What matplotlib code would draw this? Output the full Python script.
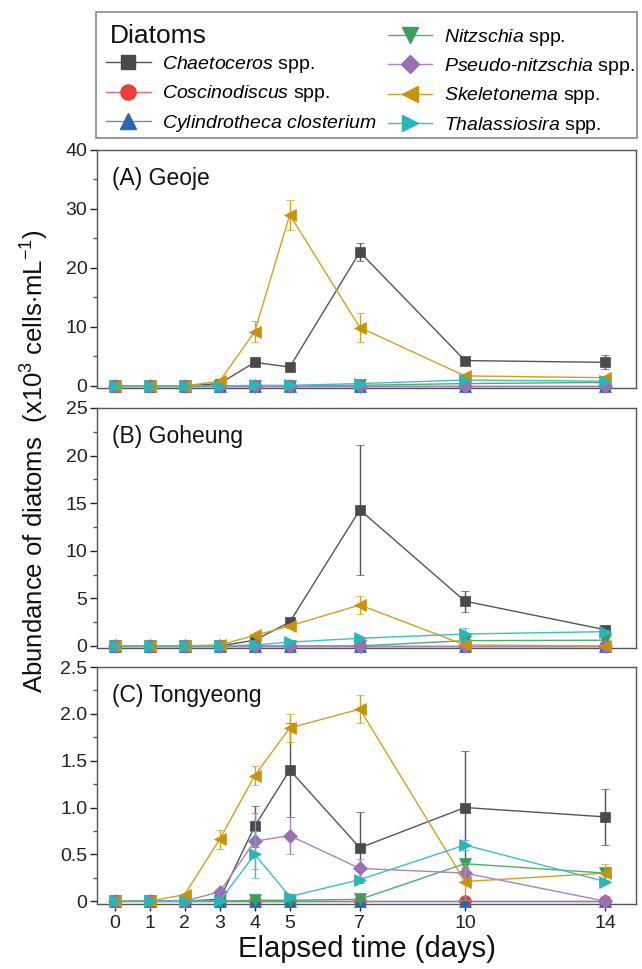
import matplotlib
matplotlib.use("Agg")
import matplotlib.pyplot as plt
from matplotlib.lines import Line2D
from matplotlib.patches import Rectangle
from matplotlib.ticker import MultipleLocator

plt.rcParams['font.family'] = ['Liberation Sans', 'DejaVu Sans']
plt.rcParams['mathtext.fontset'] = 'custom'
plt.rcParams['mathtext.rm'] = 'Liberation Sans'
plt.rcParams['mathtext.it'] = 'Liberation Sans:italic'

days = [0, 1, 2, 3, 4, 5, 7, 10, 14]
species = [r"$\it{Chaetoceros}$ spp.", r"$\it{Coscinodiscus}$ spp.",
           r"$\it{Cylindrotheca\ closterium}$", r"$\it{Nitzschia}$ spp.",
           r"$\it{Pseudo}$-$\it{nitzschia}$ spp.", r"$\it{Skeletonema}$ spp.",
           r"$\it{Thalassiosira}$ spp."]
colors = ['#4a4a4a', '#e8413c', '#2a66b0', '#3a9e5f', '#9b6fb5', '#c8920e', '#2bb5b8']
line_colors = ['#555555', '#ee6a66', '#5b8fd0', '#4caf6f', '#a884c2', '#d3a020', '#3cc0c2']
markers = ['s', 'o', '^', 'v', 'D', '<', '>']
msizes = [7.5, 8.5, 9, 9, 7, 9, 9]

zeros = [0, 0, 0, 0, 0, 0, 0, 0, 0]

geoje_means = [
    [0, 0, 0, 0.4, 4.0, 3.2, 22.7, 4.3, 4.0],
    zeros,
    zeros,
    [0, 0, 0, 0, 0, 0, 0.1, 0.4, 0.6],
    zeros,
    [0, 0, 0, 0.8, 9.2, 29.0, 9.9, 1.7, 1.4],
    [0, 0, 0, 0, 0.1, 0.1, 0.4, 1.0, 0.8],
]
geoje_errs = [
    [0, 0, 0, 0.1, 0.3, 0.3, 1.5, 0.3, 1.2],
    zeros,
    zeros,
    zeros,
    zeros,
    [0, 0, 0, 0.2, 1.8, 2.5, 2.5, 0.2, 0.2],
    [0, 0, 0, 0, 0, 0, 0.1, 0.2, 0.1],
]
goheung_means = [
    [0, 0, 0, 0, 0.6, 2.5, 14.3, 4.7, 1.7],
    zeros,
    zeros,
    [0, 0, 0, 0, 0, 0, 0, 0.55, 0.6],
    zeros,
    [0, 0, 0, 0.1, 1.1, 2.1, 4.3, 0.1, 0],
    [0, 0, 0, 0, 0.1, 0.4, 0.8, 1.25, 1.5],
]
goheung_errs = [
    [0, 0, 0, 0, 0.1, 0.2, 6.8, 1.1, 0.2],
    zeros,
    zeros,
    zeros,
    zeros,
    [0, 0, 0, 0, 0.1, 0.2, 0.9, 0.1, 0],
    [0, 0, 0, 0, 0, 0.1, 0.1, 0.6, 0.2],
]
tongyeong_means = [
    [0, 0, 0, 0.02, 0.80, 1.40, 0.57, 1.0, 0.9],
    zeros,
    zeros,
    [0, 0, 0, 0, 0.01, 0.01, 0.02, 0.40, 0.30],
    [0, 0, 0, 0.1, 0.64, 0.70, 0.35, 0.30, 0],
    [0, 0, 0.07, 0.66, 1.34, 1.85, 2.05, 0.21, 0.30],
    [0, 0, 0, 0, 0.50, 0.05, 0.23, 0.60, 0.21],
]
tongyeong_errs = [
    [0, 0, 0, 0.01, 0.22, 0.5, 0.38, 0.6, 0.3],
    zeros,
    zeros,
    [0, 0, 0, 0, 0, 0, 0.02, 0.03, 0.02],
    [0, 0, 0, 0.02, 0.3, 0.2, 0.1, 0.05, 0],
    [0, 0, 0.01, 0.1, 0.1, 0.15, 0.15, 0.2, 0.1],
    [0, 0, 0, 0, 0.25, 0.02, 0.03, 0.05, 0.02],
]

sites = ["(A) Geoje", "(B) Goheung", "(C) Tongyeong"]
site_means = [geoje_means, goheung_means, tongyeong_means]
site_errs = [geoje_errs, goheung_errs, tongyeong_errs]
ylims = [(-0.35, 40), (-0.22, 25), (-0.03, 2.5)]
majors = [10, 5, 0.5]
minors = [5, 2.5, 0.25]

W, H = 642, 969
fig = plt.figure(figsize=(W / 100, H / 100), dpi=100)
left = 97 / W
width = (636 - 97) / W
boxes = [(150, 388), (408, 648), (667, 904)]
frame_col = '#555555'

axes = []
for i, (t, b) in enumerate(boxes):
    ax = fig.add_axes([left, 1 - b / H, width, (b - t) / H])
    axes.append(ax)
    for k in range(len(species)):
        ax.errorbar(days, site_means[i][k], yerr=site_errs[i][k],
                    color=line_colors[k], ecolor=line_colors[k], lw=1.0,
                    elinewidth=1.0, capsize=3, capthick=1.0,
                    marker=markers[k], ms=msizes[k], mfc=colors[k], mec=colors[k],
                    mew=0.5, zorder=3 + k, clip_on=False)
    ax.set_xlim(-0.5, 14.88)
    ax.set_ylim(*ylims[i])
    ax.yaxis.set_major_locator(MultipleLocator(majors[i]))
    ax.yaxis.set_minor_locator(MultipleLocator(minors[i]))
    ax.tick_params(axis='y', which='major', direction='out', length=5, width=1,
                   labelsize=14, colors='#222222', pad=2)
    ax.tick_params(axis='y', which='minor', direction='out', length=3, width=1,
                   colors='#555555')
    ax.set_xticks(days)
    if i < 2:
        ax.tick_params(axis='x', bottom=False, labelbottom=False)
    else:
        ax.tick_params(axis='x', direction='out', length=5, width=1,
                       labelsize=14, colors='#222222', pad=3)
    if i == 2:
        ax.yaxis.set_major_formatter(plt.FuncFormatter(
            lambda v, p: '0' if abs(v) < 1e-9 else f'{v:.1f}'))
    for s in ax.spines.values():
        s.set_color(frame_col)
        s.set_linewidth(1.0)
    ax.text(0.028, 0.93, sites[i], transform=ax.transAxes, fontsize=16.5,
            va='top', ha='left', color='#111111')

axes[2].set_xlabel("Elapsed time (days)", fontsize=21, labelpad=2, color='#111111')

fig.text(35 / W, 0.524, r"Abundance of diatoms  (x10$^3$ cells$\cdot$mL$^{-1}$)",
         rotation=90, fontsize=18.5, ha='center', va='center', color='#111111')

# Legend
fig.patches.append(Rectangle((96 / W, 1 - 138 / H), (637 - 96) / W, 126 / H,
                             transform=fig.transFigure, fill=False,
                             edgecolor='#888888', lw=1.2, zorder=0))
handles = [Line2D([], [], linestyle='none', marker='none')]
labels = [" "]
for k in range(len(species)):
    handles.append(Line2D([], [], color=line_colors[k], lw=1.0, marker=markers[k],
                          ms=msizes[k] + 2.5, mfc=colors[k], mec=colors[k]))
    labels.append(species[k])
leg = fig.legend(handles, labels, loc='upper left',
                 bbox_to_anchor=(106 / W, 1 - 27 / H),
                 ncol=2, fontsize=14, frameon=False,
                 handlelength=2.3, handletextpad=0.6,
                 borderpad=0.0, labelspacing=0.42, columnspacing=0.55,
                 borderaxespad=0)
leg.set_zorder(1)
t = fig.text(110 / W, 1 - 36 / H, "Diatoms", fontsize=19, ha='left', va='center',
             color='#111111')
t.set_zorder(10)

fig.savefig("out.png", dpi=100)
